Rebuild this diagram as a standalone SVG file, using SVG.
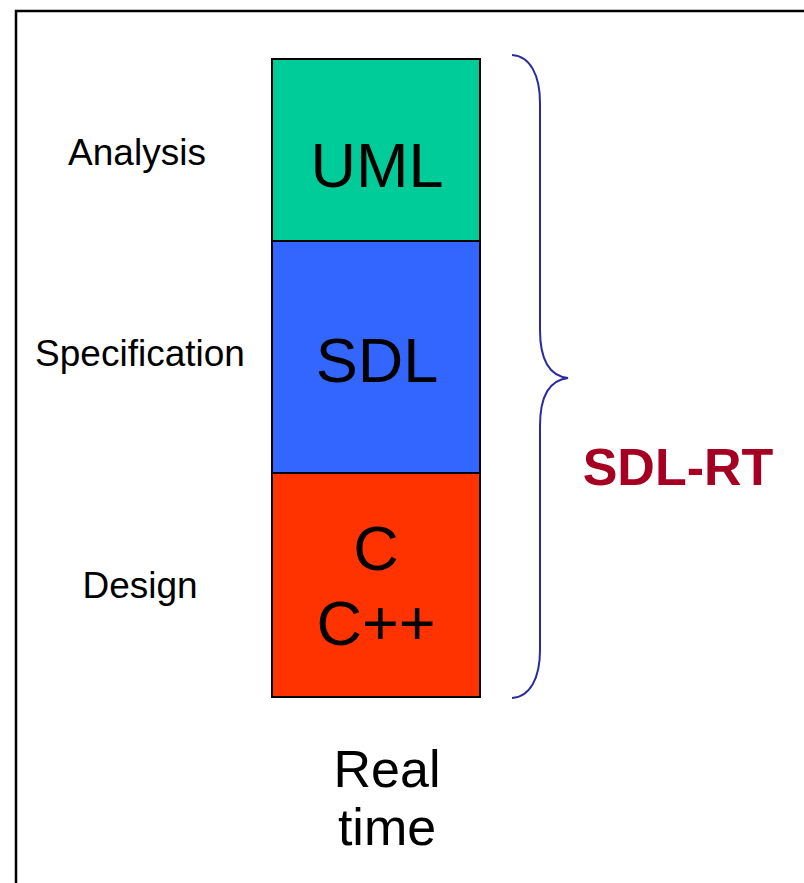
<svg xmlns="http://www.w3.org/2000/svg" width="804" height="883" viewBox="0 0 804 883">
<style>
.lbl{font-family:"Liberation Sans",Arial,sans-serif;font-size:37px;fill:#000;text-anchor:middle}
.big{font-family:"Liberation Sans",Arial,sans-serif;font-size:63px;fill:#000;text-anchor:middle}
.rt{font-family:"Liberation Sans",Arial,sans-serif;font-size:52px;fill:#000;text-anchor:middle}
.box{stroke:#000;stroke-width:2}
</style>
<rect x="0" y="0" width="804" height="883" fill="#fff"/>
<rect x="16" y="11" width="800" height="880" fill="none" stroke="#000" stroke-width="2.5"/>
<g id="analysis"><text class="lbl" x="137" y="165">Analysis</text></g>
<g id="specification"><text class="lbl" x="140" y="366">Specification</text></g>
<g id="design"><text class="lbl" x="140" y="598">Design</text></g>
<g id="uml"><rect class="box" x="272" y="59" width="208" height="182" fill="#00CC99"/><text class="big" x="377" y="187">UML</text></g>
<g id="sdl"><rect class="box" x="272" y="241" width="208" height="232" fill="#3366FF"/><text class="big" x="377" y="382">SDL</text></g>
<g id="c"><rect class="box" x="272" y="473" width="208" height="224" fill="#FF3300"/><text class="big" x="376" y="570">C</text><text class="big" x="376" y="645">C++</text></g>
<g id="realtime"><text class="rt" x="387" y="787">Real</text><text class="rt" x="387" y="845">time</text></g>
<g id="connectors"><path d="M512,55 C530,56 540,75 540,103 L540,330 C540,360 550,376 568,378 C550,380 540,396 540,426 L540,650 C540,678 530,697 512,698" fill="none" stroke="#2A2AA0" stroke-width="2"/></g>
<g id="sdlrt"><text x="678" y="485" font-family="'Liberation Sans',Arial,sans-serif" font-size="52" font-weight="bold" fill="#A50021" text-anchor="middle">SDL-RT</text></g>
</svg>
